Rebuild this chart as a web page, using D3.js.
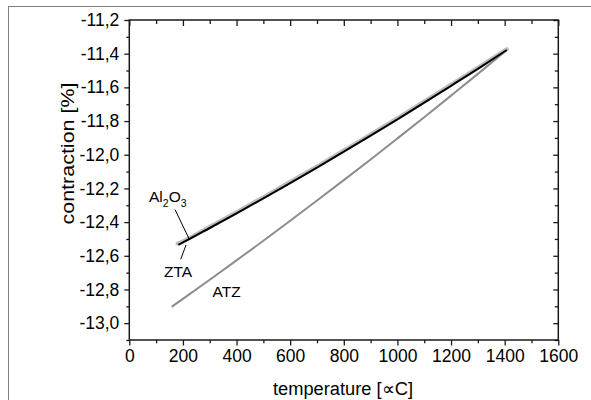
<!DOCTYPE html>
<html>
<head>
<meta charset="utf-8">
<script src="https://cdn.jsdelivr.net/npm/d3@7/dist/d3.min.js"></script>
<style>
  html, body { margin: 0; padding: 0; background: #fff; }
  svg { display: block; font-family: "Liberation Sans", Arial, sans-serif; }
</style>
</head>
<body>
<svg id="chart" width="591" height="400"></svg>
<script>
// ---- data ----
const xTickValues = [0, 200, 400, 600, 800, 1000, 1200, 1400, 1600];
const yTickValues = [-13.0, -12.8, -12.6, -12.4, -12.2, -12.0, -11.8, -11.6, -11.4, -11.2];

const al2o3Temp  = [180, 200, 300, 400, 500, 600, 700, 800, 900, 1000, 1100, 1200, 1300, 1408];
const al2o3Value = [-12.527, -12.514, -12.428, -12.341, -12.252, -12.161, -12.069, -11.975, -11.880, -11.783, -11.684, -11.584, -11.483, -11.373];

const ztaTemp  = [183, 200, 300, 400, 500, 600, 700, 800, 900, 1000, 1100, 1200, 1300, 1408];
const ztaValue = [-12.535, -12.521, -12.435, -12.348, -12.259, -12.168, -12.076, -11.982, -11.887, -11.790, -11.691, -11.591, -11.490, -11.378];

const atzTemp  = [158, 200, 300, 400, 500, 600, 700, 800, 900, 1000, 1100, 1200, 1300, 1408];
const atzValue = [-12.903, -12.856, -12.742, -12.627, -12.511, -12.392, -12.272, -12.151, -12.028, -11.903, -11.777, -11.649, -11.520, -11.378];

const xTitle = "temperature [\u221DC]";
const yTitle = "contraction [%]";

// ---- layout ----
const svg = d3.select("#chart");
const L = 129.3, R = 558.3, T = 20, B = 340;
const x = d3.scaleLinear().domain([0, 1600]).range([L, R]);
const y = d3.scaleLinear().domain([-13.1, -11.2]).range([B, T]);
const fmt = d => d.toFixed(1).replace(".", ",");

// outer frame
svg.append("rect").attr("x", 8.5).attr("y", 6.5).attr("width", 700).attr("height", 500)
  .attr("fill", "none").attr("stroke", "#7f7f7f").attr("stroke-width", 1);

const xMinor = d3.range(100, 1600, 200);
const yMinor = d3.range(0, 19).map(i => -13.1 + i * 0.1).filter(v => Math.abs((v + 13.0) / 0.2 - Math.round((v + 13.0) / 0.2)) > 0.1);

function styleAxis(g) {
  g.select(".domain").remove();
  g.selectAll("line").attr("stroke", "#1a1a1a").attr("stroke-width", 1.3);
  g.selectAll("text").attr("fill", "#000").attr("font-size", 17.5)
    .attr("font-family", "'Liberation Sans', Arial, sans-serif");
}

// bottom axis
svg.append("g").attr("transform", `translate(0,${B})`)
  .call(d3.axisBottom(x).tickValues(xTickValues).tickSize(5.5).tickPadding(4).tickFormat(d => d))
  .call(styleAxis);
svg.append("g").attr("transform", `translate(0,${B})`)
  .call(d3.axisBottom(x).tickValues(xMinor).tickSize(3.3).tickFormat(""))
  .call(styleAxis);
// top axis (ticks inward)
svg.append("g").attr("transform", `translate(0,${T})`)
  .call(d3.axisTop(x).tickValues(xTickValues).tickSize(-6).tickFormat(""))
  .call(styleAxis);
svg.append("g").attr("transform", `translate(0,${T})`)
  .call(d3.axisTop(x).tickValues(xMinor).tickSize(-4).tickFormat(""))
  .call(styleAxis);
// left axis
svg.append("g").attr("transform", `translate(${L},0)`)
  .call(d3.axisLeft(y).tickValues(yTickValues).tickSize(5).tickPadding(5).tickFormat(fmt))
  .call(styleAxis);
svg.append("g").attr("transform", `translate(${L},0)`)
  .call(d3.axisLeft(y).tickValues(yMinor).tickSize(3).tickFormat(""))
  .call(styleAxis);
// right axis (ticks inward)
svg.append("g").attr("transform", `translate(${R},0)`)
  .call(d3.axisRight(y).tickValues(yTickValues).tickSize(-5).tickFormat(""))
  .call(styleAxis);
svg.append("g").attr("transform", `translate(${R},0)`)
  .call(d3.axisRight(y).tickValues(yMinor).tickSize(-3.5).tickFormat(""))
  .call(styleAxis);

// plot frame
svg.append("rect").attr("x", L).attr("y", T).attr("width", R - L).attr("height", B - T)
  .attr("fill", "none").attr("stroke", "#1a1a1a").attr("stroke-width", 1.5);

// lines
const line = d3.line().x(d => x(d[0])).y(d => y(d[1])).curve(d3.curveMonotoneX);
const zipData = (a, b) => a.map((t, i) => [t, b[i]]);

svg.append("path").datum(zipData(atzTemp, atzValue)).attr("d", line)
  .attr("fill", "none").attr("stroke", "#8c8c8c").attr("stroke-width", 2);
svg.append("path").datum(zipData(al2o3Temp, al2o3Value)).attr("d", line)
  .attr("fill", "none").attr("stroke", "#bdbdbd").attr("stroke-width", 4).attr("stroke-linecap", "round");
svg.append("path").datum(zipData(ztaTemp, ztaValue)).attr("d", line)
  .attr("fill", "none").attr("stroke", "#000").attr("stroke-width", 2);

// annotations
const ann = svg.append("g").attr("font-size", 15.5).attr("fill", "#000");
const t1 = ann.append("text").attr("x", 149).attr("y", 201.5);
t1.append("tspan").text("Al");
t1.append("tspan").attr("font-size", 10.5).attr("dy", 5).text("2");
t1.append("tspan").attr("dy", -5).text("O");
t1.append("tspan").attr("font-size", 10.5).attr("dy", 5).text("3");
ann.append("text").attr("x", 164).attr("y", 277.3).text("ZTA");
ann.append("text").attr("x", 212.5).attr("y", 297.3).text("ATZ");
svg.append("line").attr("x1", 175).attr("y1", 209.5).attr("x2", 189.3).attr("y2", 239.3)
  .attr("stroke", "#000").attr("stroke-width", 1);
svg.append("line").attr("x1", 180.7).attr("y1", 259.3).attr("x2", 186).attr("y2", 245)
  .attr("stroke", "#000").attr("stroke-width", 1);

// axis titles
svg.append("text").attr("x", 343).attr("y", 395).attr("text-anchor", "middle")
  .attr("font-size", 18).attr("textLength", 140).attr("lengthAdjust", "spacingAndGlyphs")
  .text(xTitle);
svg.append("text").attr("transform", "translate(74,153.5) rotate(-90)").attr("text-anchor", "middle")
  .attr("font-size", 18).attr("textLength", 142).attr("lengthAdjust", "spacingAndGlyphs")
  .text(yTitle);
</script>
</body>
</html>
